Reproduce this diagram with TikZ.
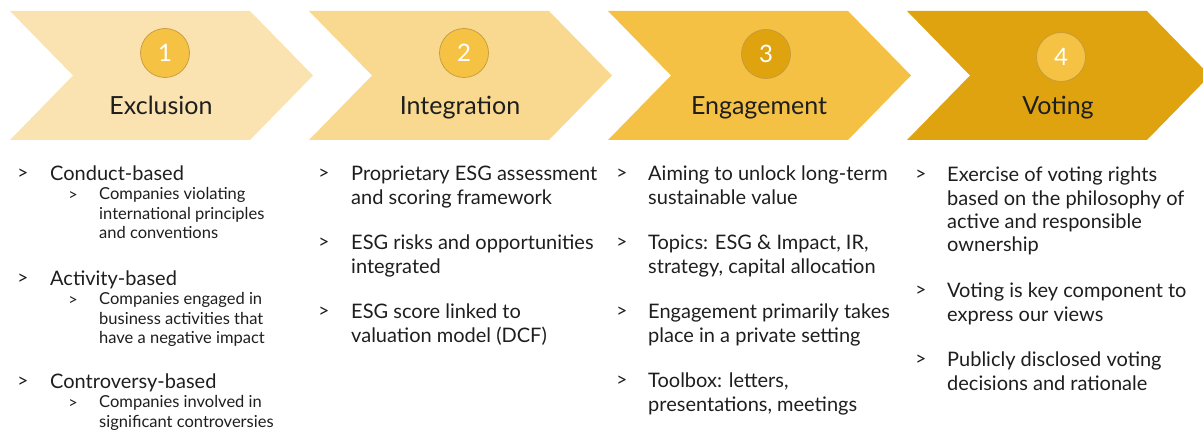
\documentclass[tikz,border=0pt]{standalone}
\usepackage{fontspec}
\setmainfont{Lato}
\definecolor{chA}{HTML}{FAE3B1}
\definecolor{chB}{HTML}{F8D98F}
\definecolor{chC}{HTML}{F5C145}
\definecolor{chD}{HTML}{DFA30F}
\definecolor{dotL}{HTML}{F5C244}
\definecolor{dotD}{HTML}{DFA30F}
\definecolor{ring}{HTML}{C39A3C}
\definecolor{txt}{HTML}{1E1E1E}

\begin{document}
\begin{tikzpicture}[x=1pt,y=-1pt,
    numdot/.style={circle, minimum size=49pt, inner sep=0pt, draw=ring, line width=0.7pt, text=white, font=\fontsize{24}{24}\selectfont},
    stage/.style={anchor=base, text=txt, font=\fontsize{25}{25}\selectfont},
    gt/.style={inner sep=0pt, text=txt, font=\fontsize{19}{19}\selectfont},
    item/.style={anchor=north west, align=left, inner sep=0pt, text=txt, font=\fontsize{20}{23.3}\selectfont},
    subitem/.style={item, font=\fontsize{16.5}{19.8}\selectfont}]
    \useasboundingbox (0,0) rectangle (1203,430);
    \clip (0,0) rectangle (1203,430);

    % chevrons
    \foreach \x/\c in {10/chA,309/chB,608/chC,907/chD}
      \fill[\c] (\x,11) -- ++(240,0) -- ++(63,64.5) -- ++(-63,64.5) -- ++(-240,0) -- ++(63,-64.5) -- cycle;

    \node[numdot, fill=dotL] (n1) at (165,53) {1};
    \node[numdot, fill=dotL] (n2) at (464,53) {2};
    \node[numdot, fill=dotD] (n3) at (766,54) {3};
    \node[numdot, fill=dotL] (n4) at (1061,57) {4};

    \node[stage] (t1) at (161,115) {Exclusion};
    \node[stage] (t2) at (460,115) {Integration};
    \node[stage] (t3) at (759,115) {Engagement};
    \node[stage] (t4) at (1058,115) {Voting};

    % column 1
    \node[gt] (g11) at (23,174) {>};
    \node[item] (ex1) at (50,166) {Conduct-based};
    \node[gt, scale=0.85] (g11s) at (73,196) {>};
    \node[subitem] (ex1s) at (99,187) {Companies violating\\international principles\\and conventions};
    \node[gt] (g12) at (23,279) {>};
    \node[item] (ex2) at (50,271) {Activity-based};
    \node[gt, scale=0.85] (g12s) at (73,301) {>};
    \node[subitem] (ex2s) at (99,292) {Companies engaged in\\business activities that\\have a negative impact};
    \node[gt] (g13) at (23,382) {>};
    \node[item] (ex3) at (50,374) {Controversy-based};
    \node[gt, scale=0.85] (g13s) at (73,404) {>};
    \node[subitem] (ex3s) at (99,395) {Companies involved in\\significant controversies};

    % column 2
    \node[gt] (g21) at (324,174) {>};
    \node[item] (in1) at (351,166) {Proprietary ESG assessment\\and scoring framework};
    \node[gt] (g22) at (324,243) {>};
    \node[item] (in2) at (351,235) {ESG risks and opportunities\\integrated};
    \node[gt] (g23) at (324,312) {>};
    \node[item] (in3) at (351,304) {ESG score linked to\\valuation model (DCF)};

    % column 3
    \node[gt] (g31) at (622,174) {>};
    \node[item] (en1) at (648,166) {Aiming to unlock long-term\\sustainable value};
    \node[gt] (g32) at (622,243) {>};
    \node[item] (en2) at (648,235) {Topics: ESG \& Impact, IR,\\strategy, capital allocation};
    \node[gt] (g33) at (622,312) {>};
    \node[item] (en3) at (648,304) {Engagement primarily takes\\place in a private setting};
    \node[gt] (g34) at (622,381) {>};
    \node[item] (en4) at (648,373) {Toolbox: letters,\\presentations, meetings};

    % column 4
    \node[gt] (g41) at (921,175) {>};
    \node[item] (vo1) at (947,167) {Exercise of voting rights\\based on the philosophy of\\active and responsible\\ownership};
    \node[gt] (g42) at (921,291) {>};
    \node[item] (vo2) at (947,283) {Voting is key component to\\express our views};
    \node[gt] (g43) at (921,360) {>};
    \node[item] (vo3) at (947,352) {Publicly disclosed voting\\decisions and rationale};
\end{tikzpicture}
\end{document}
